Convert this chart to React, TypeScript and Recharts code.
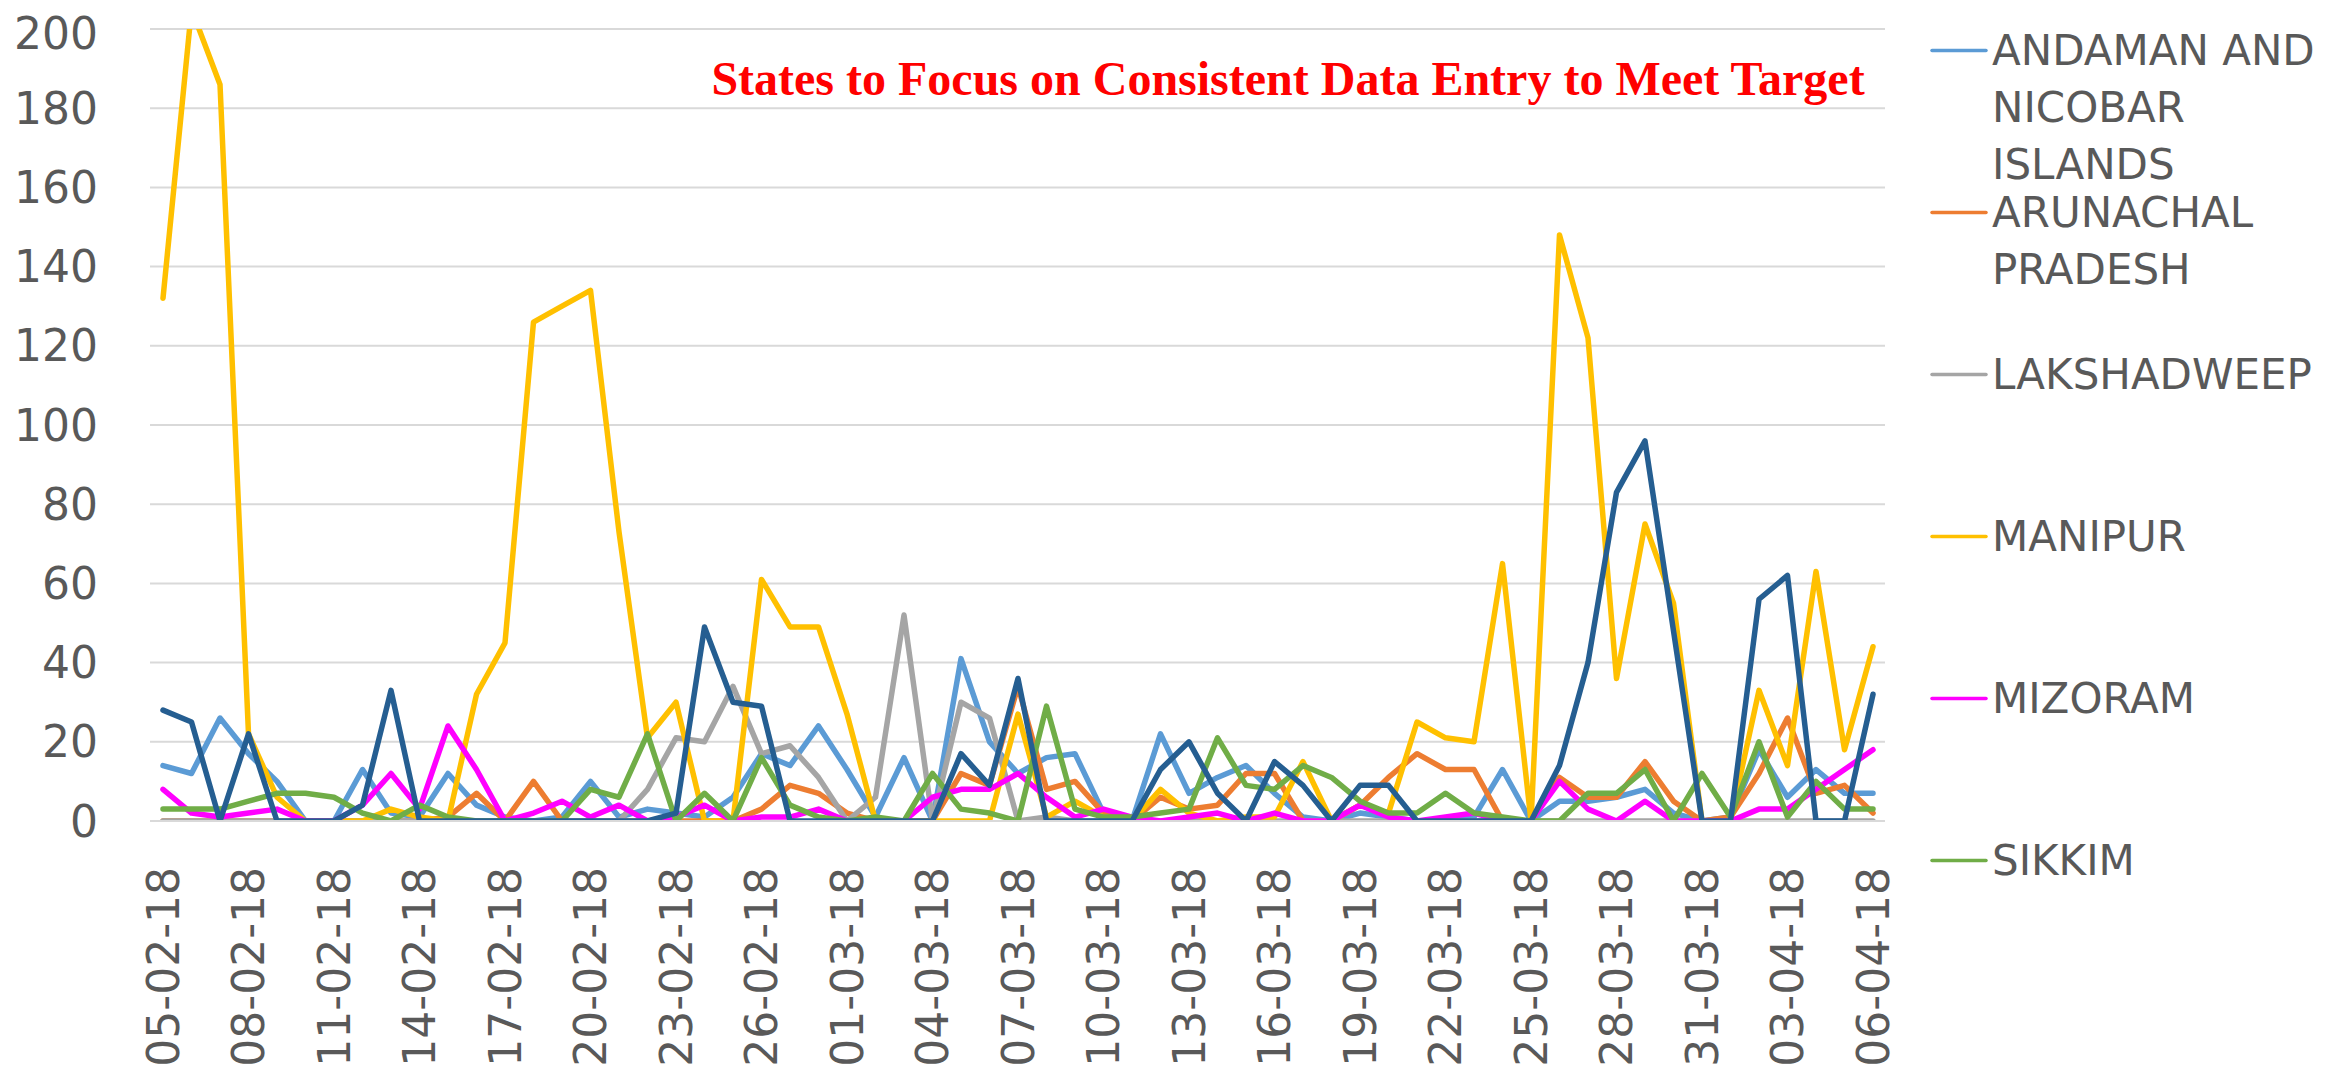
import React from 'react';
import { LineChart, Line, XAxis, YAxis, CartesianGrid, Legend } from 'recharts';

const dates = [
  '05-02-18', '06-02-18', '07-02-18', '08-02-18', '09-02-18', '10-02-18', '11-02-18', '12-02-18', '13-02-18', '14-02-18',
  '15-02-18', '16-02-18', '17-02-18', '18-02-18', '19-02-18', '20-02-18', '21-02-18', '22-02-18', '23-02-18', '24-02-18',
  '25-02-18', '26-02-18', '27-02-18', '28-02-18', '01-03-18', '02-03-18', '03-03-18', '04-03-18', '05-03-18', '06-03-18',
  '07-03-18', '08-03-18', '09-03-18', '10-03-18', '11-03-18', '12-03-18', '13-03-18', '14-03-18', '15-03-18', '16-03-18',
  '17-03-18', '18-03-18', '19-03-18', '20-03-18', '21-03-18', '22-03-18', '23-03-18', '24-03-18', '25-03-18', '26-03-18',
  '27-03-18', '28-03-18', '29-03-18', '30-03-18', '31-03-18', '01-04-18', '02-04-18', '03-04-18', '04-04-18', '05-04-18',
  '06-04-18',
];

const andaman = [14, 12, 26, 17, 10, 0, 0, 13, 2, 1, 12, 4, 1, 0, 1, 10, 1, 3, 2, 1, 6, 17, 14, 24, 13, 1, 16, 0, 41, 20, 12, 16, 17, 2, 0, 22, 7, 11, 14, 7, 1, 0, 2, 1, 0, 0, 1, 13, 0, 5, 5, 6, 8, 2, 0, 1, 18, 6, 13, 7, 7];
const arunachal = [0, 0, 0, 0, 0, 0, 0, 0, 0, 0, 1, 7, 0, 10, 0, 0, 0, 0, 0, 0, 0, 3, 9, 7, 2, 0, 0, 0, 12, 9, 34, 8, 10, 2, 0, 6, 3, 4, 12, 12, 0, 0, 4, 11, 17, 13, 13, 0, 0, 11, 6, 6, 15, 5, 0, 1, 12, 26, 7, 9, 2];
const lakshadweep = [0, 0, 0, 0, 0, 0, 0, 0, 0, 0, 0, 0, 0, 0, 0, 0, 0, 8, 21, 20, 34, 17, 19, 11, 0, 6, 52, 0, 30, 26, 0, 1, 0, 0, 0, 0, 0, 0, 0, 0, 0, 0, 0, 0, 0, 0, 0, 0, 0, 0, 0, 0, 0, 0, 0, 0, 0, 0, 0, 0, 0];
const manipur = [132, 205, 186, 22, 6, 0, 0, 0, 3, 1, 0, 32, 45, 126, 130, 134, 73, 21, 30, 0, 0, 61, 49, 49, 27, 0, 0, 0, 0, 0, 27, 1, 5, 1, 0, 8, 2, 0, 1, 1, 15, 0, 4, 2, 25, 21, 20, 65, 0, 148, 122, 36, 75, 55, 0, 0, 33, 14, 63, 18, 44];
const mizoram = [8, 2, 1, 2, 3, 0, 0, 4, 12, 3, 24, 13, 0, 2, 5, 1, 4, 0, 1, 4, 0, 1, 1, 3, 0, 0, 0, 6, 8, 8, 12, 6, 1, 3, 1, 0, 1, 2, 0, 2, 0, 0, 4, 1, 0, 1, 2, 0, 0, 10, 3, 0, 5, 0, 0, 0, 3, 3, 8, 13, 18];
const sikkim = [3, 3, 3, 5, 7, 7, 6, 2, 0, 4, 1, 0, 0, 0, 0, 8, 6, 22, 0, 7, 0, 16, 4, 1, 0, 1, 0, 12, 3, 2, 0, 29, 3, 1, 1, 2, 3, 21, 9, 8, 14, 11, 5, 2, 2, 7, 2, 1, 0, 0, 7, 7, 13, 0, 12, 1, 20, 1, 10, 3, 3];
const tripura = [28, 25, 0, 22, 0, 0, 0, 4, 33, 0, 0, 0, 0, 0, 0, 0, 0, 0, 2, 49, 30, 29, 0, 0, 0, 0, 0, 0, 17, 9, 36, 0, 0, 0, 0, 13, 20, 7, 0, 15, 9, 0, 9, 9, 0, 0, 0, 0, 0, 14, 40, 83, 96, 48, 0, 0, 56, 62, 0, 0, 32];

const yTicks = [0, 20, 40, 60, 80, 100, 120, 140, 160, 180, 200];

const seriesNames = ['ANDAMAN AND NICOBAR ISLANDS', 'ARUNACHAL PRADESH', 'LAKSHADWEEP', 'MANIPUR', 'MIZORAM', 'SIKKIM', 'TRIPURA'];
const seriesKeys = ['andaman', 'arunachal', 'lakshadweep', 'manipur', 'mizoram', 'sikkim', 'tripura'];
const seriesColors = ['#5B9BD5', '#ED7D31', '#A5A5A5', '#FFC000', '#FF00FF', '#70AD47', '#255E91'];
const seriesInLegend = [true, true, true, true, true, true, false];
const seriesValues = [andaman, arunachal, lakshadweep, manipur, mizoram, sikkim, tripura];

const titleText = 'States to Focus on Consistent Data Entry to Meet Target';

const data = dates.map((d, i) => {
  const row: Record<string, string | number> = { date: d };
  seriesKeys.forEach((k, s) => {
    row[k] = seriesValues[s][i];
  });
  return row;
});

const AXIS_FONT = 'DejaVu Sans, Verdana, sans-serif';

const XTick = (props: any) => {
  const { x, y, payload } = props;
  return (
    <g>
      <text
        x={x}
        y={y}
        transform={`rotate(-90 ${x} ${y})`}
        textAnchor="end"
        dy="0.36em"
        fill="#595959"
        fontSize={44}
        fontFamily={AXIS_FONT}
      >
        {payload.value}
      </text>
    </g>
  );
};

const renderLegend = (props: any) => {
  const payload = (props.payload || []) as any[];
  const items = seriesNames
    .map((n, i) => ({ n, i }))
    .filter(({ i }) => seriesInLegend[i])
    .map(({ n, i }) => {
      const p = payload.find((q: any) => q.value === n);
      return { name: n, color: p ? p.color : seriesColors[i] };
    });
  return (
    <div style={{ fontFamily: AXIS_FONT, fontSize: 42, color: '#595959' }}>
      {items.map((it) => (
        <div key={it.name} style={{ height: 162, display: 'flex', alignItems: 'flex-start' }}>
          <svg width={62} height={57} style={{ flex: 'none', display: 'block' }}>
            <line x1={2} x2={56} y1={28.5} y2={28.5} stroke={it.color} strokeWidth={3.5} strokeLinecap="round" />
          </svg>
          <div style={{ lineHeight: '57px', width: 345, whiteSpace: 'normal' }}>{it.name}</div>
        </div>
      ))}
    </div>
  );
};

export default function App() {
  const W = 2333;
  const H = 1059;
  return (
    <div style={{ position: 'relative', width: W, height: H }}>
      <LineChart width={W} height={H} data={data} margin={{ top: 21, right: 456, bottom: 0, left: 0 }}>
        <CartesianGrid vertical={false} stroke="#D9D9D9" strokeWidth={2} />
        <XAxis
          dataKey="date"
          interval={2}
          padding={{ left: 13, right: 12 }}
          height={246}
          tickLine={false}
          tickSize={0}
          tickMargin={46}
          axisLine={{ stroke: '#D9D9D9', strokeWidth: 2 }}
          tick={<XTick />}
        />
        <YAxis
          domain={[0, 200]}
          ticks={yTicks}
          allowDataOverflow
          axisLine={false}
          tickLine={false}
          tickSize={0}
          tickMargin={52}
          width={142}
          tick={{ fill: '#595959', fontSize: 44, fontFamily: AXIS_FONT }}
        />
        <Legend
          layout="vertical"
          align="center"
          verticalAlign="middle"
          wrapperStyle={{ left: 1922, top: 14, width: 410 }}
          content={renderLegend}
        />
        {seriesKeys.map((k, i) => (
          <Line
            key={k}
            type="linear"
            dataKey={k}
            name={seriesNames[i]}
            stroke={seriesColors[i]}
            strokeWidth={5.5}
            strokeLinejoin="round"
            strokeLinecap="round"
            dot={false}
            activeDot={false}
            legendType={seriesInLegend[i] ? 'line' : 'none'}
            isAnimationActive={false}
          />
        ))}
      </LineChart>
      <svg width={W} height={H} style={{ position: 'absolute', left: 0, top: 0, pointerEvents: 'none' }}>
        <text
          x={1280}
          y={87}
          textAnchor="middle"
          fill="#FF0000"
          fontSize={48}
          fontWeight="bold"
          fontFamily="Liberation Serif, Times New Roman, serif"
        >
          {titleText}
        </text>
      </svg>
    </div>
  );
}
